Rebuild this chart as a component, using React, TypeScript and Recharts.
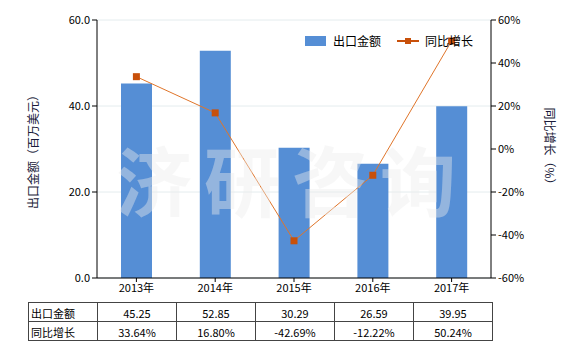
import React from 'react';
import {
	ComposedChart,
	Bar,
	Line,
	XAxis,
	YAxis,
	CartesianGrid,
	Legend,
} from 'recharts';

const years = ['2013年', '2014年', '2015年', '2016年', '2017年'];
const exportValues = [45.25, 52.85, 30.29, 26.59, 39.95];
const growthRates = [33.64, 16.8, -42.69, -12.22, 50.24];
const leftTicks = [0, 20, 40, 60];
const rightTicks = [-60, -40, -20, 0, 20, 40, 60];

const barName = '出口金额';
const lineName = '同比增长';

const data = years.map((year, i) => ({
	year,
	value: exportValues[i],
	growth: growthRates[i],
}));

const FONT = '"Microsoft YaHei", "Noto Sans CJK SC", "Noto Sans", sans-serif';
const BAR_COLOR = '#558ed5';
const LINE_COLOR = '#e0752a';
const DOT_COLOR = '#c8500a';

const SquareDot = (props: any) =>
{
	const { cx, cy } = props;
	if (cx == null || cy == null) return null;
	return <rect x={cx - 3.5} y={cy - 3.5} width={7} height={7} fill={DOT_COLOR} />;
};

const LegendContent = () =>
(
	<div style={{ display: 'flex', alignItems: 'center', fontFamily: FONT, fontSize: 12, color: '#000' }}>
		<span style={{ display: 'inline-block', width: 21, height: 10, background: BAR_COLOR, marginRight: 7 }} />
		<span style={{ marginRight: 16 }}>{barName}</span>
		<svg width={22} height={10} style={{ marginRight: 6 }}>
			<line x1={0} y1={5} x2={22} y2={5} stroke={DOT_COLOR} strokeWidth={2} />
			<rect x={8} y={2} width={6} height={6} fill={DOT_COLOR} />
		</svg>
		<span>{lineName}</span>
	</div>
);

const cellStyle: React.CSSProperties = {
	border: '1px solid #444',
	padding: 0,
	height: 18,
	textAlign: 'center',
	verticalAlign: 'bottom',
	fontSize: 11,
	lineHeight: '16px',
};

export default function App()
{
	return (
		<div style={{ position: 'absolute', left: 0, top: 0, width: 580, height: 350, background: '#fff', fontFamily: FONT }}>
			<ComposedChart
				width={580}
				height={300}
				data={data}
				margin={{ top: 20, right: 0, left: 0, bottom: 0 }}
			>
				<CartesianGrid yAxisId="left" vertical={false} stroke="#e4ecee" />
				<XAxis
					dataKey="year"
					height={22}
					tick={{ fontSize: 11, fill: '#000', fontFamily: FONT }}
					tickSize={4}
					axisLine={{ stroke: '#000' }}
					tickLine={{ stroke: '#000' }}
				/>
				<YAxis
					yAxisId="left"
					width={97}
					domain={[0, 60]}
					ticks={leftTicks}
					tickFormatter={(v: number) => v.toFixed(1)}
					tick={{ fontSize: 11, fill: '#000', fontFamily: FONT }}
					tickSize={5}
					axisLine={{ stroke: '#000' }}
					tickLine={{ stroke: '#000' }}
					label={{
						value: '出口金额（百万美元）',
						angle: -90,
						position: 'insideLeft',
						offset: 34,
						style: { fontSize: 12, fill: '#1a1a3a', fontFamily: FONT, textAnchor: 'middle' },
					}}
				/>
				<YAxis
					yAxisId="right"
					orientation="right"
					width={89}
					domain={[-60, 60]}
					ticks={rightTicks}
					tickFormatter={(v: number) => `${v}%`}
					tick={{ fontSize: 11, fill: '#000', fontFamily: FONT }}
					tickSize={5}
					axisLine={{ stroke: '#000' }}
					tickLine={{ stroke: '#000' }}
					label={{
						value: '同比增长（%）',
						angle: 90,
						position: 'insideRight',
						offset: 31,
						style: { fontSize: 12, fill: '#1a1a3a', fontFamily: FONT, textAnchor: 'middle' },
					}}
				/>
				<Legend
					layout="horizontal"
					verticalAlign="middle"
					align="center"
					wrapperStyle={{ position: 'absolute', top: 32, left: 305, width: 'auto' }}
					content={<LegendContent />}
				/>
				<Bar
					yAxisId="left"
					dataKey="value"
					name={barName}
					fill={BAR_COLOR}
					barSize={31}
					isAnimationActive={false}
				/>
				<Line
					yAxisId="right"
					type="linear"
					dataKey="growth"
					name={lineName}
					stroke={LINE_COLOR}
					strokeWidth={1}
					dot={<SquareDot />}
					activeDot={false}
					isAnimationActive={false}
				/>
			</ComposedChart>

			<div
				style={{
					position: 'absolute',
					left: 116,
					top: 128,
					fontSize: 76,
					fontWeight: 700,
					letterSpacing: 12,
					color: 'rgba(235,235,235,0.42)',
					pointerEvents: 'none',
					whiteSpace: 'nowrap',
					fontFamily: '"Noto Sans CJK SC", sans-serif',
					lineHeight: '100px',
				}}
			>
				济研咨询
			</div>

			<table
				style={{
					position: 'absolute',
					left: 28,
					top: 302,
					width: 464,
					borderCollapse: 'collapse',
					tableLayout: 'fixed',
					fontFamily: FONT,
					color: '#000',
				}}
			>
				<colgroup>
					<col style={{ width: 69 }} />
					{years.map((y) => <col key={y} style={{ width: 79 }} />)}
				</colgroup>
				<tbody>
					<tr>
						<td style={{ ...cellStyle, textAlign: 'left', paddingLeft: 2 }}>{barName}</td>
						{exportValues.map((v, i) => <td key={i} style={cellStyle}>{v.toFixed(2)}</td>)}
					</tr>
					<tr>
						<td style={{ ...cellStyle, textAlign: 'left', paddingLeft: 2 }}>{lineName}</td>
						{growthRates.map((v, i) => <td key={i} style={cellStyle}>{v.toFixed(2)}%</td>)}
					</tr>
				</tbody>
			</table>
		</div>
	);
}
